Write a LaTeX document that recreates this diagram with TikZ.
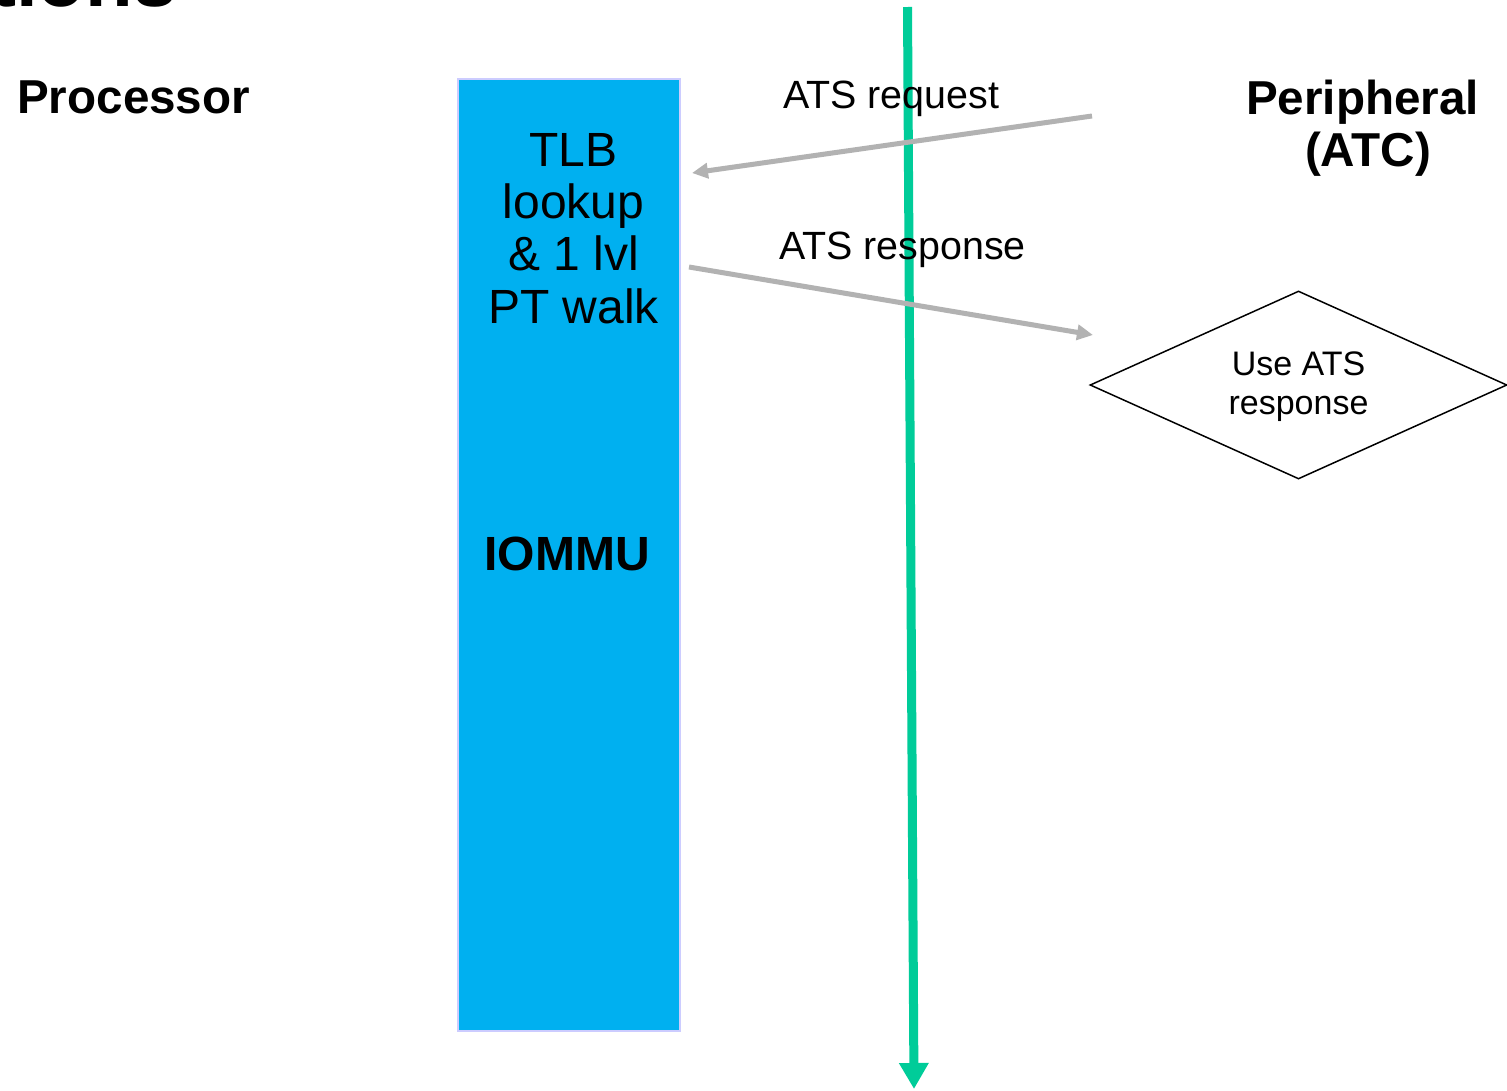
\documentclass[tikz,border=0pt]{standalone}
\usepackage{fontspec}
\setmainfont{Liberation Sans}
\usetikzlibrary{arrows.meta,shapes.geometric}
\definecolor{iommublue}{RGB}{0,176,240}
\definecolor{boxedge}{RGB}{204,204,255}
\definecolor{timeline}{RGB}{0,204,153}
\definecolor{msggray}{RGB}{178,178,178}

\begin{document}
\begin{tikzpicture}[x=1pt,y=-1pt,
  heading/.style={font=\fontsize{47.6}{52}\selectfont\bfseries, inner sep=0pt, align=center, anchor=base},
  boxtext/.style={font=\fontsize{48}{52.2}\selectfont, inner sep=0pt, align=center, anchor=base},
  msglabel/.style={font=\fontsize{39.4}{45}\selectfont, inner sep=0pt, anchor=base west},
  msg/.style={draw=msggray, line width=5pt, -{Triangle[width=15pt,length=16pt]}},
  ]
\useasboundingbox (0,0) rectangle (1507,1090);
\clip (0,0) rectangle (1507,1090);
\fill[white] (0,0) rectangle (1507,1090);

% slide title running off the top edge
\node[font=\fontsize{78}{90}\selectfont\bfseries, inner sep=0pt, anchor=base west] (title) at (-10,6) {tions};

% lane headings (multi-line nodes sit on their last baseline)
\node[heading, anchor=base west] (proc) at (17,113) {Processor};
\node[heading] (periph) at (1362.5,166) {Peripheral\\\hspace*{11pt}(ATC)};

% IOMMU column
\node[draw=boxedge, fill=iommublue, line width=1.5pt, minimum width=222pt, minimum height=952pt,
      inner sep=0pt, anchor=north west] (iommu) at (457,78) {};
\node[boxtext] (walk) at (573.5,323) {TLB\\lookup\\\& 1 lvl\\PT walk};
\node[font=\fontsize{48}{52}\selectfont\bfseries, inner sep=0pt, anchor=base] (iommulabel) at (567,570) {IOMMU};

% time line
\coordinate (tl-top) at (907.5,7);
\coordinate (tl-end) at (914,1089);
\draw[timeline, line width=9pt, -{Triangle[width=28pt,length=26pt]}] (tl-top) -- (tl-end);

% ATS messages
\coordinate (req-from) at (1092,116);
\coordinate (req-to) at (692,173);
\coordinate (resp-from) at (689,267);
\coordinate (resp-to) at (1093,335);
\draw[msg] (req-from) -- (req-to);
\draw[msg] (resp-from) -- (resp-to);
\node[msglabel] (reqlabel) at (783,108) {ATS request};
\node[msglabel] (resplabel) at (779,259) {ATS response};

% decision on the peripheral side
\node[draw, line width=1.5pt, diamond, shape aspect=2.2, minimum width=417pt, minimum height=188pt, inner sep=0pt,
      font=\fontsize{34}{38.5}\selectfont, align=center, text depth=4pt] (use) at (1298.5,385) {Use ATS\\response};
\end{tikzpicture}
\end{document}
